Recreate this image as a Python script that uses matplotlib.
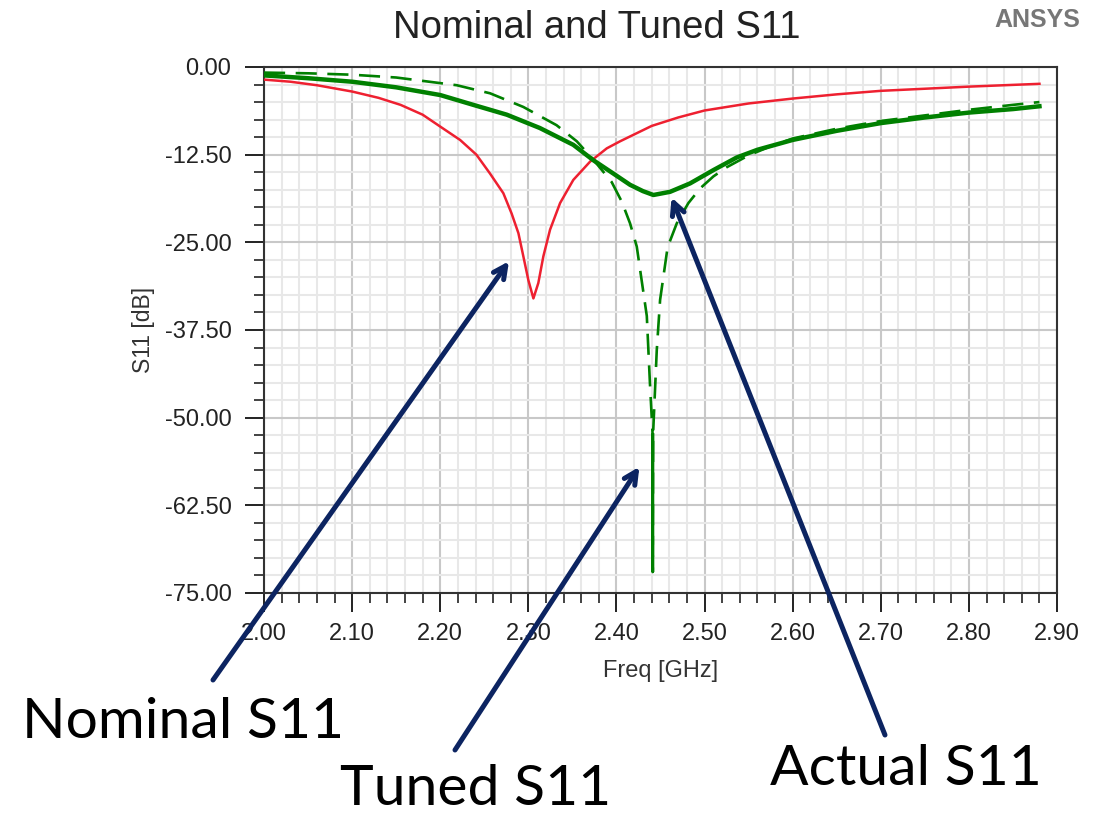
import matplotlib
matplotlib.use("Agg")
import matplotlib.pyplot as plt
import numpy as np
from matplotlib.ticker import MultipleLocator, FormatStrFormatter

plt.rcParams["font.family"] = ["Liberation Sans", "DejaVu Sans"]
plt.rcParams["axes.unicode_minus"] = False

# nominal S11 (red)
nom_f = [2.00, 2.03, 2.06, 2.10, 2.13, 2.155, 2.18, 2.20, 2.2225, 2.241,
         2.2565, 2.2716, 2.281, 2.2887, 2.2943, 2.300, 2.3057, 2.3113, 2.317,
         2.3246, 2.336, 2.351, 2.370, 2.389, 2.404, 2.44, 2.47, 2.50, 2.55,
         2.60, 2.65, 2.70, 2.75, 2.80, 2.85, 2.88]
nom_db = [-1.8, -2.1, -2.6, -3.5, -4.4, -5.4, -6.8, -8.5, -10.4, -12.5,
          -15.2, -18.0, -20.9, -23.7, -27.0, -30.4, -33.0, -30.8, -27.0,
          -23.2, -19.4, -16.1, -13.5, -11.6, -10.6, -8.4, -7.2, -6.2, -5.2,
          -4.5, -3.9, -3.4, -3.1, -2.8, -2.55, -2.4]

# actual S11 (green solid)
act_f = [2.00, 2.05, 2.10, 2.15, 2.20, 2.2375, 2.2755, 2.313, 2.351, 2.3738,
         2.3965, 2.4154, 2.43, 2.4419, 2.4608, 2.4835, 2.51, 2.5365, 2.56,
         2.60, 2.65, 2.70, 2.75, 2.80, 2.85, 2.88]
act_db = [-1.2, -1.6, -2.1, -2.9, -4.0, -5.4, -6.8, -8.7, -11.1, -13.3,
          -15.2, -16.8, -17.7, -18.25, -17.8, -16.6, -14.7, -12.9, -11.8,
          -10.4, -9.1, -8.0, -7.2, -6.5, -6.0, -5.6]

# tuned S11 (green dashed)
tun_f = [2.00, 2.05, 2.10, 2.15, 2.2187, 2.2565, 2.2943, 2.332, 2.355, 2.375,
         2.3945, 2.406, 2.4154, 2.423, 2.4344, 2.438, 2.441, 2.4412, 2.4415,
         2.4457, 2.4495, 2.458, 2.4684, 2.4816, 2.495, 2.51, 2.525, 2.55,
         2.575, 2.60, 2.65, 2.70, 2.75, 2.80, 2.85, 2.88]
tun_db = [-0.8, -0.9, -1.1, -1.5, -2.6, -3.75, -5.7, -8.3, -10.6, -13.4,
          -16.4, -19.2, -22.3, -25.6, -35.5, -45.2, -52.4, -72.0, -52.4,
          -40.4, -33.2, -25.7, -22.3, -19.4, -17.3, -15.6, -14.3, -12.6,
          -11.3, -10.2, -8.8, -7.7, -6.9, -6.1, -5.4, -5.0]

labels = ["Nominal S11", "Tuned S11", "Actual S11"]
navy = "#0c2461"

fig = plt.figure(figsize=(11.07, 8.17), dpi=100)
ax = fig.add_axes([0.2385, 0.2742, 0.7164, 0.6438])

ax.plot(nom_f, nom_db, color="#ee2030", lw=1.8, zorder=3)
ax.plot(act_f, act_db, color="#008000", lw=3.2, zorder=3)
ax.plot(tun_f, tun_db, color="#008000", lw=1.9, ls=(0, (8, 4)), zorder=3)
tun_f_a, tun_db_a = np.array(tun_f), np.array(tun_db)
deep = tun_db_a <= -52
ax.plot(tun_f_a[deep], tun_db_a[deep], color="#008000", lw=1.9, zorder=3)

ax.set_xlim(2.0, 2.9)
ax.set_ylim(-75, 0)
ax.xaxis.set_major_locator(MultipleLocator(0.1))
ax.xaxis.set_minor_locator(MultipleLocator(0.02))
ax.yaxis.set_major_locator(MultipleLocator(12.5))
ax.yaxis.set_minor_locator(MultipleLocator(2.5))
ax.xaxis.set_major_formatter(FormatStrFormatter("%.2f"))
ax.yaxis.set_major_formatter(FormatStrFormatter("%.2f"))
ax.grid(which="major", color="#c8c8c8", lw=1.5)
ax.grid(which="minor", color="#e8e8e8", lw=1.5)
ax.set_axisbelow(True)
ax.tick_params(which="major", length=13.5, width=1.4, labelsize=17,
               colors="#222222")
ax.tick_params(axis="y", which="major", pad=10)
ax.tick_params(axis="x", which="major", pad=8)
ax.tick_params(which="minor", length=7, width=1.2, colors="#222222")
for s in ax.spines.values():
    s.set_color("#333333")
    s.set_linewidth(1.5)

ax.set_xlabel("Freq [GHz]", fontsize=17, color="#333333", labelpad=11)
ax.set_ylabel("S11 [dB]", fontsize=16.5, color="#333333", labelpad=7)
fig.text(0.539, 0.966, "Nominal and Tuned S11", ha="center", va="center",
         fontsize=27.5, color="#222222")
fig.text(0.937, 0.976, "ANSYS", ha="center", va="center", fontsize=18,
         fontweight="bold", color="#777777")

# callouts
heads = [(2.278, -27.7), (2.426, -57.0), (2.4625, -18.6)]
tails = [(213 / 1107, 1 - 680 / 817), (455 / 1107, 1 - 750 / 817),
         (885 / 1107, 1 - 735 / 817)]
for (hx, hy), tail in zip(heads, tails):
    ax.annotate("", xy=(hx, hy), xycoords="data", xytext=tail,
                textcoords="figure fraction",
                arrowprops=dict(arrowstyle="->,head_length=0.9,head_width=0.45",
                                color=navy, lw=3.6, shrinkA=0, shrinkB=0),
                annotation_clip=False, zorder=5)

# baseline positions in pixels; "Tuned S11" kept just inside the bottom edge
text_pos = [(22, 738), (340, 805), (770, 785)]
for lab, (px, py) in zip(labels, text_pos):
    fig.text(px / 1107, 1 - py / 817, lab, ha="left", va="baseline",
             fontsize=41, family=["Lato", "DejaVu Sans"], color="black")

fig.savefig("out.png", dpi=100)
